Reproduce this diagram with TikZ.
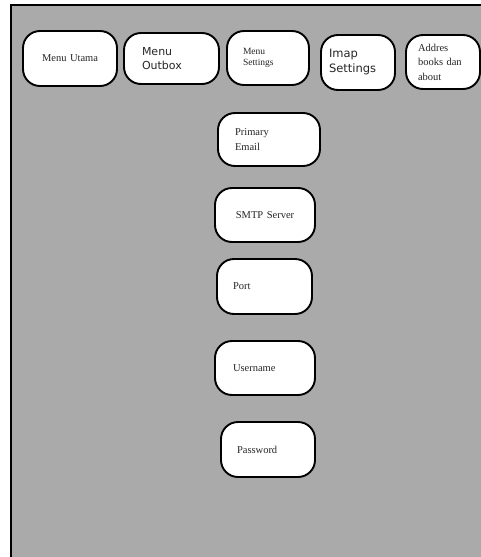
\documentclass[tikz,border=0pt]{standalone}
\usepackage{fontspec}
\setmainfont{Liberation Serif}
\newfontfamily\sansf{DejaVu Sans}
\definecolor{bggray}{RGB}{170,170,170}
\begin{document}
\begin{tikzpicture}[x=1pt,y=-1pt,
  menubox/.style={draw=black, line width=1.9pt, fill=white, rounded corners=17pt,
    inner ysep=0pt, align=left, text=black!85},
  serif/.style={font=\fontsize{10.5}{14.5}\selectfont},
  sans/.style={font=\sansf\fontsize{11}{14}\selectfont}]
\useasboundingbox (0,0) rectangle (481,557);
\fill[bggray] (11,5) rectangle (485,561);
\draw[line width=1.5pt] (11,561) -- (11,5) -- (485,5);
% top row
\node[menubox, serif, align=center, minimum width=94pt, minimum height=55pt, text width=80pt, inner xsep=7pt] (utama) at (70,58.5) {Menu Utama};
\node[menubox, sans, minimum height=51pt, text width=59pt, inner xsep=18pt] (outbox) at (171.5,58.5) {Menu\\Outbox};
\node[menubox, font=\fontsize{9.5}{11.5}\selectfont, minimum height=54pt, text width=50pt, inner xsep=16pt] (msettings) at (268,58) {Menu\\Settings};
\node[menubox, sans, font=\sansf\fontsize{11.5}{15}\selectfont, minimum height=55pt, text width=58pt, inner xsep=8pt] (imap) at (358,62.5) {Imap\\Settings};
\node[menubox, serif, minimum height=54pt, text width=50pt, inner xsep=12pt] (addres) at (443,62) {Addres\\books dan\\about};
% column
\node[menubox, serif, minimum height=53pt, text width=68pt, inner xsep=17pt] (primary) at (269,139.5) {Primary\\Email};
\node[menubox, serif, align=center, minimum height=54pt, text width=86pt, inner xsep=7pt] (smtp) at (265,215) {SMTP Server};
\node[menubox, serif, minimum height=55pt, text width=63pt, inner xsep=16pt] (port) at (264.5,286.5) {Port};
\node[menubox, serif, minimum height=54pt, text width=64pt, inner xsep=18pt] (username) at (265,368) {Username};
\node[menubox, serif, minimum height=55pt, text width=62pt, inner xsep=16pt] (password) at (268,449.5) {Password};
\end{tikzpicture}
\end{document}
